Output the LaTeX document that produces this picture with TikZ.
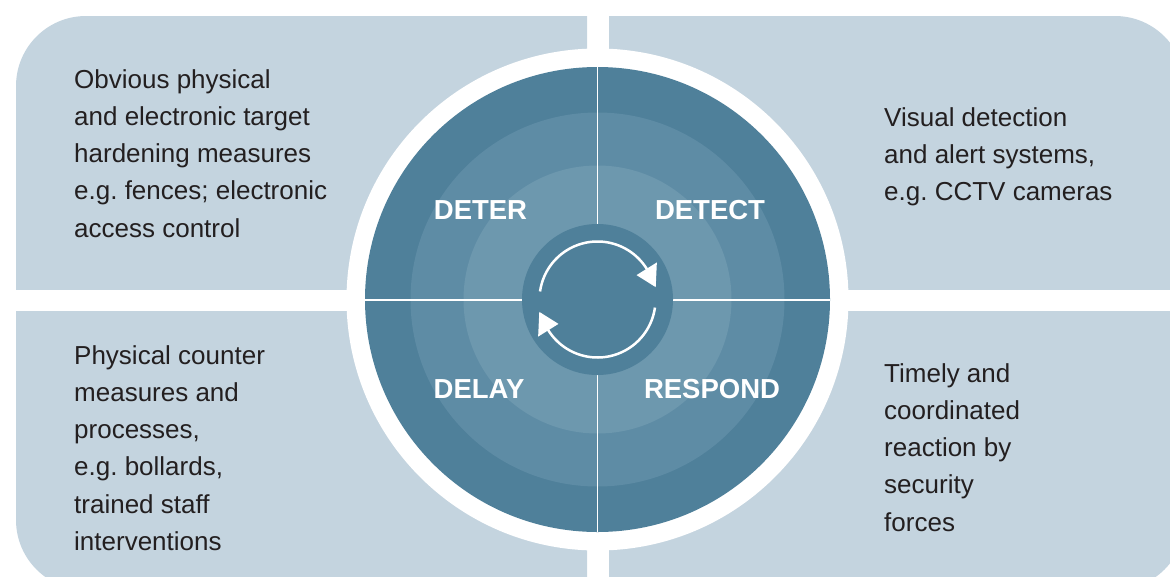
\documentclass[tikz,border=0pt]{standalone}
\usepackage{fontspec}
\setmainfont{Liberation Sans}
\frenchspacing
\definecolor{panel}{HTML}{C4D4DF}
\definecolor{ringA}{HTML}{4F809A}
\definecolor{ringB}{HTML}{5E8CA5}
\definecolor{ringC}{HTML}{6D98AE}
\definecolor{txt}{HTML}{231F20}
\tikzset{
  paneltext/.style={anchor=base west, inner sep=0pt, align=left, text=txt,
    font={\fontsize{26pt}{37.3pt}\selectfont}},
  phase/.style={anchor=base, inner sep=0pt, text=white,
    font={\fontsize{27.5pt}{30pt}\selectfont\bfseries}},
  crossline/.style={white, line width=1.6pt},
  cyclearc/.style={white, line width=2.5pt},
}
\begin{document}
\begin{tikzpicture}[x=1pt,y=-1pt]
\useasboundingbox (0,0) rectangle (1170,576);
\clip (0,0) rectangle (1170,576);
% panels
\begin{scope}
  \clip (0,0) rectangle (587,289);
  \fill[panel, rounded corners=70pt] (16,16) rectangle (800,500);
\end{scope}
\begin{scope}
  \clip (609,0) rectangle (1170,289);
  \fill[panel, rounded corners=70pt] (400,16) rectangle (1185,500);
\end{scope}
\begin{scope}
  \clip (0,311) rectangle (587,576);
  \fill[panel, rounded corners=70pt] (16,100) rectangle (800,590);
\end{scope}
\begin{scope}
  \clip (609,311) rectangle (1170,576);
  \fill[panel, rounded corners=70pt] (400,100) rectangle (1185,590);
\end{scope}
% central wheel
\coordinate (c) at (597.5,299.5);
\fill[white] (c) circle[radius=251pt];
\fill[ringA] (c) circle[radius=232.5pt];
\fill[ringB] (c) circle[radius=187pt];
\fill[ringC] (c) circle[radius=134pt];
\coordinate (vt) at (597.5,67);
\coordinate (vb) at (597.5,532);
\coordinate (hl) at (365,300);
\coordinate (hr) at (830,300);
\draw[crossline] (vt) -- (vb);
\draw[crossline] (hl) -- (hr);
\fill[ringA] (c) circle[radius=75.5pt];
% cycle arrows
\draw[cyclearc] plot[domain=188:331, samples=80] ({597.5+58*cos(\x)},{299.5+58*sin(\x)});
\draw[cyclearc] plot[domain=8:151, samples=80] ({597.5+58*cos(\x)},{299.5+58*sin(\x)});
\fill[white] ({597.5+46*cos(328)},{299.5+46*sin(328)}) -- ({597.5+70*cos(328)},{299.5+70*sin(328)}) -- ({597.5+59.5*cos(348)},{299.5+59.5*sin(348)}) -- cycle;
\fill[white] ({597.5+46*cos(148)},{299.5+46*sin(148)}) -- ({597.5+70*cos(148)},{299.5+70*sin(148)}) -- ({597.5+59.5*cos(168)},{299.5+59.5*sin(168)}) -- cycle;
% phase labels
\node[phase] (deter) at (480.5,219) {DETER};
\node[phase] (detect) at (710,219) {DETECT};
\node[phase] (delay) at (479,398) {DELAY};
\node[phase] (respond) at (712,398) {RESPOND};
% panel texts (anchored at the baseline of their last line)
\node[paneltext] (tl) at (74,237.2) {Obvious physical\\and electronic target\\hardening measures\\e.g. fences; electronic\\access control};
\node[paneltext] (tr) at (884,200.6) {Visual detection\\and alert systems,\\e.g. CCTV cameras};
\node[paneltext] (bl) at (74,550.5) {Physical counter\\measures and\\processes,\\e.g. bollards,\\trained staff\\interventions};
\node[paneltext] (br) at (884,531.2) {Timely and\\coordinated\\reaction by\\security\\forces};
\end{tikzpicture}
\end{document}
